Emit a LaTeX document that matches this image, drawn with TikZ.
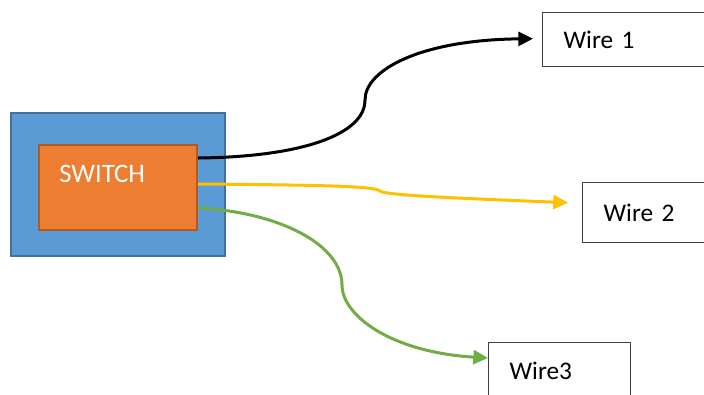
\documentclass[tikz,border=0pt]{standalone}
\usepackage{fontspec}
\setmainfont{Carlito}
\usetikzlibrary{arrows.meta,calc}

\definecolor{aussenblau}{HTML}{5B9BD5}
\definecolor{aussenrand}{HTML}{41719C}
\definecolor{schalterorange}{HTML}{ED7D31}
\definecolor{schalterrand}{HTML}{AE5A21}
\definecolor{kabelgelb}{HTML}{FFC000}
\definecolor{kabelgruen}{HTML}{70AD47}

\begin{document}
\begin{tikzpicture}[x=0.75pt,y=-0.75pt]
				% Einstellungen für die Kästchen und Kabel
				\tikzset{gehaeuse/.style={
						draw=aussenrand, % Dunkelblaue Umrandung
						fill=aussenblau, % Blaue Füllung
						line width=1.5pt,
						minimum width=160.5pt,
						minimum height=107.25pt
				}}
				\tikzset{schalter/.style={
						draw=schalterrand, % Braune Umrandung
						fill=schalterorange, % Orange Füllung
						line width=1.5pt,
						minimum width=118.5pt,
						minimum height=63.75pt
				}}
				\tikzset{beschriftung/.style={
						font=\fontsize{20}{24}\selectfont,
						inner sep=0pt
				}}
				\tikzset{kabelbox/.style={
						draw=black!75, % Dunkelgraue Linie
						fill=white,
						line width=1pt,
						anchor=north west,
						inner xsep=15.75pt,
						text width=#1, % Breite des Textfeldes
						align=left, % Text links
						font=\fontsize{19}{23}\selectfont
				}}
				\tikzset{kabel/.style={
						line width=2.25pt,
						-{Triangle[length=11pt,width=10.5pt]}
				}}
				
				% Bildgröße festlegen
				\useasboundingbox (0,0) rectangle (704,394);
				\clip (0,0) rectangle (704,394);
				
				% Schalter im Gehäuse
				\node[gehaeuse] (gh) at (118,184.5) {};
				\node[schalter] (sw) at (118,187.5) {};
				\node[beschriftung, text=white, anchor=west] (swtext) at ($(sw.west)+(21,-13.5)$) {SWITCH};
				
				% Kästchen für die Kabel
				\node[kabelbox=132pt, minimum height=40.5pt] (w1) at (542,12) {Wire 1};
				\node[kabelbox=102pt, minimum height=45pt] (w2) at (582,182) {Wire 2};
				\node[kabelbox=75pt, minimum height=42pt] (w3) at (488,342) {Wire3};
				
				% Kabel vom Schalter zu den Kästchen
				\draw[kabel, black] ($(sw.east)+(0,-29.5)$) .. controls (300,157) and (365,135) .. (365,100)
					.. controls (365,70) and (420,40) .. ($(w1.west)+(-9,-1)$);
				\draw[kabel, kabelgelb] ($(sw.east)+(0,-3.5)$) .. controls (320,185) and (375,186) .. (380,191)
					.. controls (384,195) and (450,198) .. ($(w2.west)+(-14,-10)$);
				\draw[kabel, kabelgruen] ($(sw.east)+(0,20.5)$) .. controls (280,212) and (342,245) .. (342,285)
					.. controls (342,315) and (390,352) .. ($(w3.north west)+(0,16)$);
			\end{tikzpicture}
\end{document}
